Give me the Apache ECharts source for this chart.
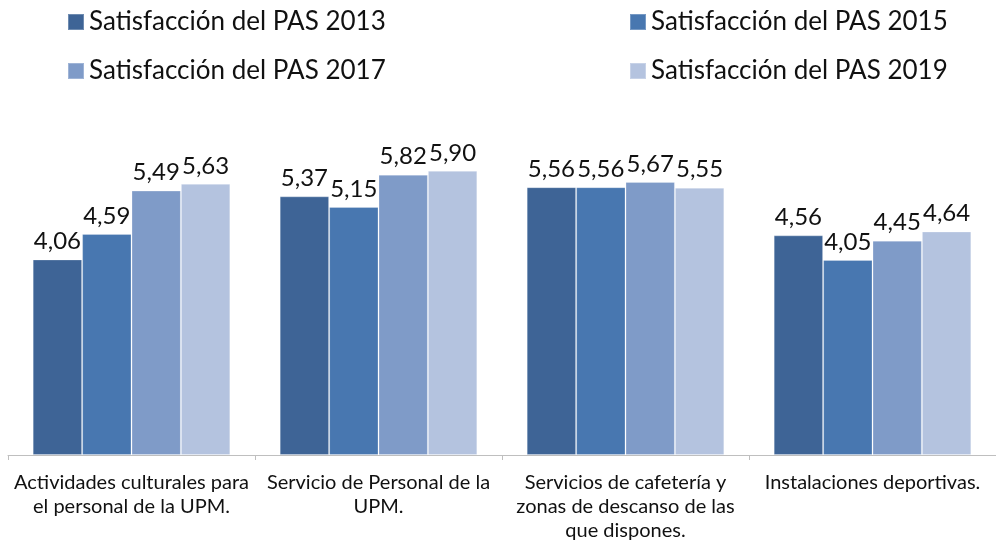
<!DOCTYPE html>
<html>
<head>
<meta charset="utf-8">
<script src="https://cdn.jsdelivr.net/npm/echarts@6/dist/echarts.min.js"></script>
<style>
  html, body { margin: 0; padding: 0; background: #fff; }
  #chart { width: 996px; height: 551px; }
</style>
</head>
<body>
<div id="chart"></div>
<script>
var categories = [
  'Actividades culturales para\nel personal de la UPM.',
  'Servicio de Personal de la\nUPM.',
  'Servicios de cafetería y\nzonas de descanso de las\nque dispones.',
  'Instalaciones deportivas.'
];
var seriesNames = ['Satisfacción del PAS 2013', 'Satisfacción del PAS 2015', 'Satisfacción del PAS 2017', 'Satisfacción del PAS 2019'];
var pas2013 = [4.06, 5.37, 5.56, 4.56];
var pas2015 = [4.59, 5.15, 5.56, 4.05];
var pas2017 = [5.49, 5.82, 5.67, 4.45];
var pas2019 = [5.63, 5.90, 5.55, 4.64];
var colors = ['#3e6496', '#4877b0', '#7f9bc8', '#b4c3df'];

var font = 'Lato, "Open Sans", sans-serif';
var chart = echarts.init(document.getElementById('chart'));

function makeSeries(name, values) {
  return {
    name: name,
    type: 'bar',
    data: values,
    barGap: '0%',
    barCategoryGap: '20%',
    itemStyle: { borderColor: 'rgba(255,255,255,0.25)', borderWidth: 1 },
    label: {
      show: true,
      position: 'top',
      distance: 6,
      color: '#111',
      fontSize: 24,
      fontFamily: font,
      formatter: function (p) { return p.value.toFixed(2).replace('.', ','); }
    }
  };
}

var legendStyle = {
  orient: 'vertical',
  top: 4,
  itemWidth: 16,
  itemHeight: 16,
  itemGap: 23,
  icon: 'rect',
  textStyle: { fontSize: 26, fontFamily: font, color: '#111' }
};

var option = {
  animation: false,
  color: colors,
  legend: [
    Object.assign({ left: 62, data: [seriesNames[0], seriesNames[2]] }, legendStyle),
    Object.assign({ left: 624, data: [seriesNames[1], seriesNames[3]] }, legendStyle)
  ],
  grid: { left: 8, right: -4, top: 166, bottom: 96, containLabel: false },
  xAxis: {
    type: 'category',
    data: categories,
    axisLine: { lineStyle: { color: '#bfbfbf', width: 1 } },
    axisTick: { show: true, length: 5, lineStyle: { color: '#bfbfbf' } },
    axisLabel: {
      interval: 0,
      margin: 16,
      color: '#111',
      fontSize: 20,
      lineHeight: 24,
      fontFamily: font
    }
  },
  yAxis: {
    type: 'value',
    min: 0,
    max: 6,
    show: false,
    splitLine: { show: false }
  },
  series: [
    makeSeries(seriesNames[0], pas2013),
    makeSeries(seriesNames[1], pas2015),
    makeSeries(seriesNames[2], pas2017),
    makeSeries(seriesNames[3], pas2019)
  ]
};

chart.setOption(option);
</script>
</body>
</html>
